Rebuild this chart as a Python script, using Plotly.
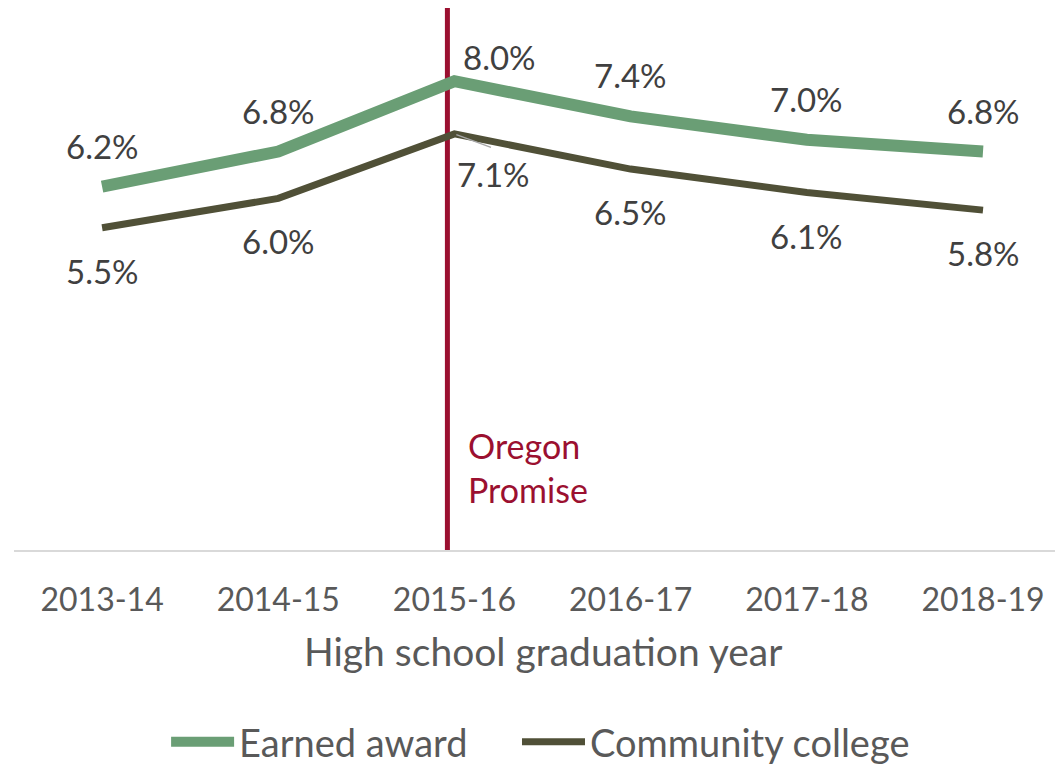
import plotly.graph_objects as go

years = ["2013-14", "2014-15", "2015-16", "2016-17", "2017-18", "2018-19"]
earned_award = [6.2, 6.8, 8.0, 7.4, 7.0, 6.8]
community_college = [5.5, 6.0, 7.1, 6.5, 6.1, 5.8]
series_names = ["Earned award", "Community college"]
promise_year = "2015-16"
promise_label = "Oregon<br>Promise"
x_title = "High school graduation year"

GREEN = "#6A9E75"
DARK = "#505037"
RED = "#9B1030"
TXT = "#404040"
AX = "#595959"
FONT = "Lato, 'Open Sans', sans-serif"

fig = go.Figure()
fig.add_trace(go.Scatter(x=years, y=earned_award, mode="lines", name=series_names[0],
                         line=dict(color=GREEN, width=12), hoverinfo="skip", legend="legend"))
fig.add_trace(go.Scatter(x=years, y=community_college, mode="lines", name=series_names[1],
                         line=dict(color=DARK, width=7), hoverinfo="skip", legend="legend2"))

pi = years.index(promise_year)
# vertical marker line
fig.add_shape(type="line", xref="x", yref="y", x0=pi - 0.04, x1=pi - 0.04, y0=-0.09, y1=9.25,
              line=dict(color=RED, width=5), layer="below")

annotations = []
for i, (y, v) in enumerate(zip(years, earned_award)):
    xs, ys = (0, 41)
    if i == pi:
        xs, ys = (45, 24)
    annotations.append(dict(x=y, y=v, xref="x", yref="y", text=f"{v:.1f}%", showarrow=False,
                            xshift=xs, yshift=ys, font=dict(size=33, color=TXT, family=FONT)))
for i, (y, v) in enumerate(zip(years, community_college)):
    xs, ys = (0, -43)
    if i == pi:
        xs, ys = (39, -40)
        annotations.append(dict(x=y, y=v, xref="x", yref="y", text="", showarrow=True,
                                ax=38, ay=14, axref="pixel", ayref="pixel", arrowhead=0,
                                arrowwidth=1.5, arrowcolor="#A6A6A6", standoff=2))
    annotations.append(dict(x=y, y=v, xref="x", yref="y", text=f"{v:.1f}%", showarrow=False,
                            xshift=xs, yshift=ys, font=dict(size=33, color=TXT, family=FONT)))

annotations.append(dict(x=promise_year, y=0, xref="x", yref="y", text=promise_label,
                        showarrow=False, xanchor="left", yanchor="middle", align="left",
                        xshift=12, yshift=83, font=dict(size=34, color=RED, family=FONT)))
annotations.append(dict(x=0.504, y=-0.186, xref="paper", yref="paper", text=x_title,
                        showarrow=False, xanchor="center", yanchor="middle",
                        font=dict(size=39, color=AX, family=FONT)))

legend_style = dict(orientation="h", y=-0.3543, yanchor="middle", xanchor="left",
                    font=dict(size=38, color=AX, family=FONT), itemwidth=63,
                    bgcolor="rgba(0,0,0,0)", borderwidth=0)

fig.update_layout(
    width=1055, height=760,
    margin=dict(l=6, r=0, t=0, b=218, autoexpand=False),
    paper_bgcolor="white", plot_bgcolor="white",
    showlegend=True,
    legend=dict(x=0.145, **legend_style),
    legend2=dict(x=0.4795, **legend_style),
    annotations=annotations,
    xaxis=dict(type="category", range=[-0.5, 5.454], showgrid=False, zeroline=False,
               showline=True, linecolor="#D9D9D9", linewidth=2,
               ticks="outside", ticklen=21, tickcolor="rgba(0,0,0,0)",
               tickfont=dict(size=32, color=AX, family=FONT)),
    yaxis=dict(range=[0, 9.249], showgrid=False, zeroline=False, showticklabels=False,
               showline=False),
)

fig.write_html("out.html")
